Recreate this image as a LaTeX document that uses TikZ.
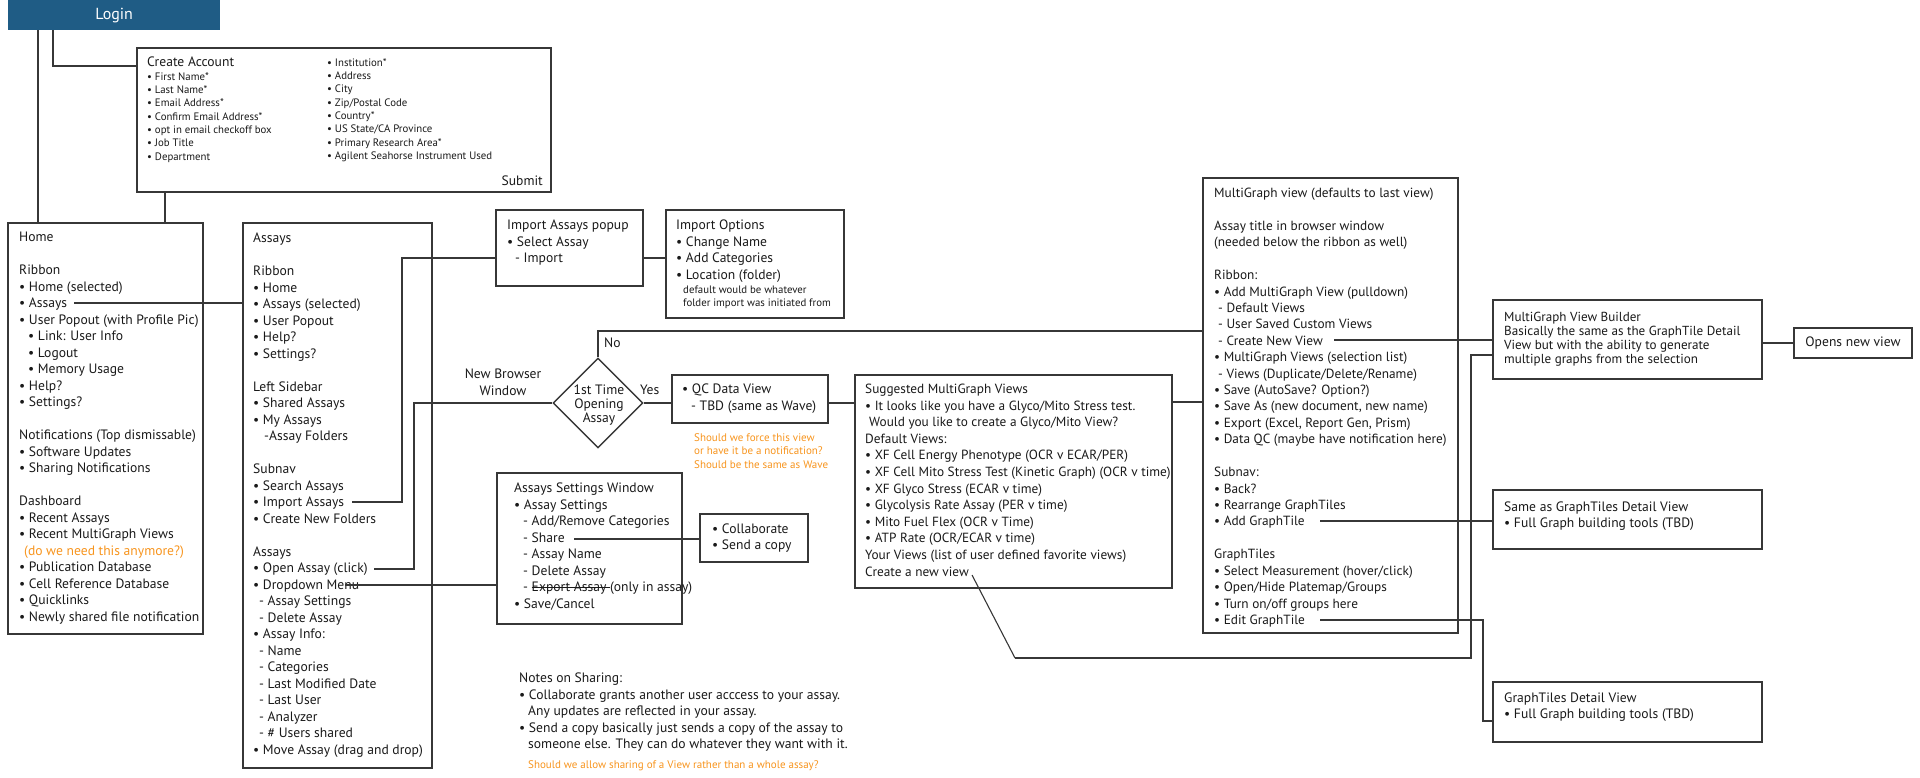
\documentclass[tikz,border=0pt]{standalone}
\usepackage{fontspec}
\setmainfont{PT Sans}
\usetikzlibrary{shapes.geometric,fit}
\definecolor{loginblue}{RGB}{31,92,133}
\definecolor{linec}{RGB}{55,55,55}
\definecolor{textc}{RGB}{25,25,25}
\definecolor{noteorange}{RGB}{247,148,29}
\newcommand\mystrike[1]{\setbox0\hbox{#1}\rlap{\rule[0.28em]{\wd0}{0.9pt}}\box0}
\newcommand\mylines[1]{\begin{tabular}[t]{@{}l@{}}#1\end{tabular}}
\newcommand\mylinesc[1]{\begin{tabular}[t]{@{}c@{}}#1\end{tabular}}
\begin{document}
\begin{tikzpicture}[x=1pt,y=-1pt,
  box/.style={draw=linec, line width=1.4pt, inner sep=0pt, rectangle},
  txt/.style={font=\fontsize{13.6}{16.5}\selectfont, text=textc, inner sep=0pt, anchor=base west},
  small/.style={font=\fontsize{10.8}{13.35}\selectfont, text=textc, inner sep=0pt, anchor=base west},
  note/.style={font=\fontsize{11}{13.5}\selectfont, text=noteorange, inner sep=0pt, anchor=base west},
  conn/.style={draw=linec, line width=1.4pt}]
\useasboundingbox (0,0) rectangle (1920,777);

% ---------- Login ----------
\node[fill=loginblue, minimum width=212pt, minimum height=30pt, inner sep=0pt, anchor=north west,
      text=white, font=\fontsize{16}{19}\selectfont] (login) at (8,0) {Login};

% ---------- Create account ----------
\node[box, fit={(137,48)(551,192)}] (create) {};
\node[txt] (createT) at (147,66.5) {Create Account};
\node[small] (createL) at (147,80) {\mylines{• First Name*\\• Last Name*\\• Email Address*\\• Confirm Email Address*\\• opt in email checkoff box\\• Job Title\\• Department}};
\node[small] (createR) at (327,66) {\mylines{• Institution*\\• Address\\• City\\• Zip/Postal Code\\• Country*\\• US State/CA Province\\• Primary Research Area*\\• Agilent Seahorse Instrument Used}};
\node[txt, anchor=base east] (submit) at (543,185.5) {Submit};

% ---------- Home ----------
\node[box, fit={(8,223)(203,634)}] (home) {};
\node[txt] (homeT) at (19,241.5) {\mylines{Home\\ \\Ribbon\\• Home (selected)\\• Assays\\• User Popout (with Profile Pic)\\
\hspace*{9pt}• Link: User Info\\\hspace*{9pt}• Logout\\\hspace*{9pt}• Memory Usage\\• Help?\\• Settings?\\ \\
Notifications (Top dismissable)\\• Software Updates\\• Sharing Notifications\\ \\
Dashboard\\• Recent Assays\\• Recent MultiGraph Views\\\hspace*{5pt}\textcolor{noteorange}{(do we need this anymore?)}\\
• Publication Database\\• Cell Reference Database\\• Quicklinks\\• Newly shared file notification}};

% ---------- Assays ----------
\node[box, fit={(243,223)(432,768)}] (assays) {};
\node[txt] (assaysT) at (253,242.5) {\mylines{Assays\\ \\Ribbon\\• Home\\• Assays (selected)\\• User Popout\\• Help?\\• Settings?\\ \\
Left Sidebar\\• Shared Assays\\• My Assays\\\hspace*{11pt}-Assay Folders\\ \\
Subnav\\• Search Assays\\• Import Assays\\• Create New Folders\\ \\
Assays\\• Open Assay (click)\\• Dropdown Menu ···\\\hspace*{6pt}- Assay Settings\\\hspace*{6pt}- Delete Assay\\
• Assay Info:\\\hspace*{6pt}- Name\\\hspace*{6pt}- Categories\\\hspace*{6pt}- Last Modified Date\\\hspace*{6pt}- Last User\\
\hspace*{6pt}- Analyzer\\\hspace*{6pt}- \# Users shared\\• Move Assay (drag and drop)}};

% ---------- Import popup / options ----------
\node[box, fit={(496,210)(643,286)}] (popup) {};
\node[txt] (popupT) at (507,229.5) {\mylines{Import Assays popup\\• Select Assay\\\hspace*{8pt}- Import}};
\node[box, fit={(666,210)(844,318)}] (options) {};
\node[txt] (optionsT) at (676,229.5) {\mylines{Import Options\\• Change Name\\• Add Categories\\• Location (folder)}};
\node[small] (optionsS) at (683,293) {\mylines{default would be whatever\\folder import was initiated from}};

% ---------- Decision ----------
\node[diamond, draw=linec, line width=1.4pt, minimum width=90pt, minimum height=90pt, inner sep=0pt, aspect=1] (dec) at (598,403) {};
\node[font=\fontsize{13.6}{14}\selectfont, text=textc, inner sep=0pt, anchor=base] (decT) at (599,394.5) {\mylinesc{1st Time\\Opening\\Assay}};
\node[txt, anchor=base] (nbw) at (503,378.5) {\mylinesc{New Browser\\Window}};
\node[txt] (noL) at (604,347.5) {No};
\node[txt] (yesL) at (640,394.5) {Yes};

% ---------- QC ----------
\node[box, fit={(672,375)(828,423)}] (qc) {};
\node[txt, font=\fontsize{13.6}{17.3}\selectfont] (qcT) at (682,393.5) {\mylines{• QC Data View\\\hspace*{9pt}- TBD (same as Wave)}};
\node[note] (qcN) at (694,441) {\mylines{Should we force this view\\or have it be a notification?\\Should be the same as Wave}};

% ---------- Settings window ----------
\node[box, fit={(497,473)(682,624)}] (settings) {};
\node[txt] (settingsT) at (514,492.5) {\mylines{Assays Settings Window\\• Assay Settings\\\hspace*{9pt}- Add/Remove Categories\\\hspace*{9pt}- Share\\
\hspace*{9pt}- Assay Name\\\hspace*{9pt}- Delete Assay\\\hspace*{9pt}- \mystrike{Export Assay }(only in assay)\\• Save/Cancel}};
\node[box, fit={(700,514)(808,562)}] (collab) {};
\node[txt] (collabT) at (712,533) {\mylines{• Collaborate\\• Send a copy}};

% ---------- Notes ----------
\node[txt] (notesT) at (519,682.5) {\mylines{Notes on Sharing:\\• Collaborate grants another user acccess to your assay.\\\hspace*{9pt}Any updates are reflected in your assay.\\
• Send a copy basically just sends a copy of the assay to\\\hspace*{9pt}someone else. They can do whatever they want with it.}};
\node[note] (notesN) at (528,768) {Should we allow sharing of a View rather than a whole assay?};

% ---------- Suggested ----------
\node[box, fit={(855,375)(1172,588)}] (sugg) {};
\node[txt, font=\fontsize{13.3}{16.6}\selectfont] (suggT) at (865,393.5) {\mylines{Suggested MultiGraph Views\\• It looks like you have a Glyco/Mito Stress test.\\
\hspace*{4pt}Would you like to create a Glyco/Mito View?\\Default Views:\\• XF Cell Energy Phenotype (OCR v ECAR/PER)\\
• XF Cell Mito Stress Test (Kinetic Graph) (OCR v time)\\• XF Glyco Stress (ECAR v time)\\• Glycolysis Rate Assay (PER v time)\\
• Mito Fuel Flex (OCR v Time)\\• ATP Rate (OCR/ECAR v time)\\Your Views (list of user defined favorite views)\\Create a new view}};

% ---------- MultiGraph view ----------
\node[box, fit={(1203,178)(1458,633)}] (mgv) {};
\node[txt, font=\fontsize{13.3}{16.42}\selectfont] (mgvT) at (1214,197.5) {\mylines{MultiGraph view (defaults to last view)\\ \\
Assay title in browser window\\(needed below the ribbon as well)\\ \\Ribbon:\\• Add MultiGraph View (pulldown)\\
\hspace*{4pt}- Default Views\\\hspace*{4pt}- User Saved Custom Views\\\hspace*{4pt}- Create New View\\
• MultiGraph Views (selection list)\\\hspace*{4pt}- Views (Duplicate/Delete/Rename)\\• Save (AutoSave? Option?)\\
• Save As (new document, new name)\\• Export (Excel, Report Gen, Prism)\\• Data QC (maybe have notification here)\\ \\
Subnav:\\• Back?\\• Rearrange GraphTiles\\• Add GraphTile\\ \\GraphTiles\\• Select Measurement (hover/click)\\
• Open/Hide Platemap/Groups\\• Turn on/off groups here\\• Edit GraphTile}};

% ---------- Right side ----------
\node[box, fit={(1493,300)(1762,379)}] (builder) {};
\node[txt, font=\fontsize{13.1}{14}\selectfont] (builderT) at (1504,321) {\mylines{MultiGraph View Builder\\Basically the same as the GraphTile Detail\\View but with the ability to generate\\multiple graphs from the selection}};
\node[box, fit={(1794,328)(1912,358)}] (opens) {};
\node[font=\fontsize{13.6}{16}\selectfont, text=textc, inner sep=0pt] (opensT) at (opens.center) {Opens new view};
\node[box, fit={(1493,490)(1762,549)}] (same) {};
\node[txt, font=\fontsize{13.6}{16}\selectfont] (sameT) at (1504,511) {\mylines{Same as GraphTiles Detail View\\• Full Graph building tools (TBD)}};
\node[box, fit={(1493,682)(1762,742)}] (gtd) {};
\node[txt, font=\fontsize{13.6}{16}\selectfont] (gtdT) at (1504,702) {\mylines{GraphTiles Detail View\\• Full Graph building tools (TBD)}};

% ---------- helper coordinates ----------
\coordinate (xa) at (38,0);
\coordinate (xb) at (53,66);
\coordinate (xc) at (165,0);
\coordinate (hA) at (74,303);
\coordinate (imp) at (352,502);
\coordinate (impU) at (402,258);
\coordinate (opn) at (374,569);
\coordinate (opnU) at (414,403);
\coordinate (dd) at (345,585);
\coordinate (noY) at (598,331);
\coordinate (sm) at (0,402);
\coordinate (cnv) at (972,575);
\coordinate (cnv2) at (1015,658);
\coordinate (cnvX) at (1471,355);
\coordinate (cnew) at (1334,340);
\coordinate (agt) at (1320,521);
\coordinate (egt) at (1320,620);
\coordinate (egtX) at (1483,721);
\coordinate (sh) at (574,539);

% ---------- connectors ----------
\draw[conn] (login.south -| xa) -- (home.north -| xa);
\draw[conn] (login.south -| xb) |- (create.west |- xb);
\draw[conn] (create.south -| xc) -- (home.north -| xc);
\draw[conn] (hA) -- (assays.west |- hA);
\draw[conn] (imp) -| (impU) -- (popup.west |- impU);
\draw[conn] (popup.east |- impU) -- (options.west |- impU);
\draw[conn] (opn) -| (opnU) -- (dec.west);
\draw[conn] (dd) -- (settings.west |- dd);
\draw[conn] (sh) -- (collab.west |- sh);
\draw[conn] (dec.north) -- (dec.north |- noY) -- (mgv.west |- noY);
\draw[conn] (dec.east) -- (qc.west |- dec.east);
\draw[conn] (qc.east |- dec.east) -- (sugg.west |- dec.east);
\draw[conn] (sugg.east |- sm) -- (mgv.west |- sm);
\draw[conn, line width=1.1pt] (cnv) -- (cnv2);
\draw[conn] (cnv2) -| (cnvX) -- (builder.west |- cnvX);
\draw[conn] (cnew) -- (builder.west |- cnew);
\draw[conn] (builder.east |- opens.west) -- (opens.west);
\draw[conn] (agt) -- (same.west |- agt);
\draw[conn] (egt) -| (egtX) -- (gtd.west |- egtX);
\end{tikzpicture}
\end{document}
